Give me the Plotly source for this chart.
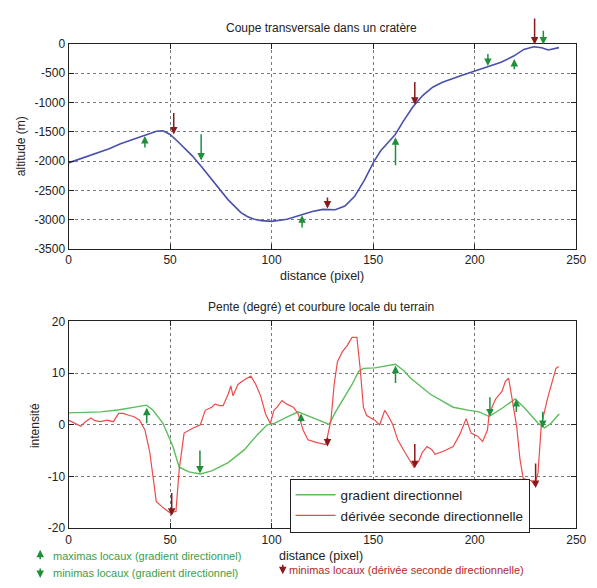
import plotly.graph_objects as go

W, H = 597, 588

# ---------------- data ----------------
# top: altitude profile
alt_x = [0, 5, 12.7, 20, 25.6, 31, 36.9, 40, 43.3, 46.5, 50, 54.3, 60.8, 65.6, 72, 78.5, 84.9,
         88, 91.4, 95, 100, 107.6, 115.6, 120, 125.3, 131.3, 136.1, 140.9, 145.7, 150.2, 153.7,
         158.5, 160.9, 164.8, 169.6, 174.5, 179.3, 184.1, 190.5, 193.8, 200.1, 203.4, 206.6,
         213, 219.4, 224.2, 229, 233, 236.2, 240.2, 241.5]
alt_y = [-2030, -1970, -1878, -1790, -1705, -1640, -1573, -1535, -1490, -1485, -1545, -1683,
         -1906, -2100, -2378, -2656, -2878, -2945, -2990, -3015, -3028, -2990, -2906, -2860,
         -2823, -2830, -2767, -2600, -2323, -2017, -1823, -1628, -1545, -1323, -1073, -878,
         -740, -657, -573, -538, -462, -423, -388, -315, -205, -95, -50, -67, -105, -72, -65]

# bottom: directional gradient (green)
grad_x = [0, 10, 16, 25, 32, 38.4, 41.6, 46.5, 51.3, 54.5, 59.3, 64.9, 70.5, 78.6, 86.6, 93,
          97.8, 101.1, 107.5, 113.1, 115.5, 121.9, 128.3, 131.5, 136.3, 139.6, 142.8, 145.2,
          150.8, 155, 160.9, 165, 168.5, 178.2, 189.4, 197.4, 202.2, 207.1, 213.5, 219.9,
          224.7, 231.2, 234.4, 237.6, 241.6]
grad_y = [2.3, 2.4, 2.5, 2.9, 3.3, 3.8, 2.8, 0.3, -4.1, -8.2, -9.1, -9.5, -8.9, -7.3, -4.8, -1.9,
          0, 0.25, 1.5, 2.5, 2.1, 1.1, 0.1, 2.5, 5.6, 7.8, 10.3, 10.9, 11, 11.3, 11.7, 10.5, 9,
          5.9, 3.4, 2.8, 2.5, 1.6, 3.2, 5, 3.2, 0.3, -0.6, 0.3, 2.1]

# bottom: directional second derivative (red)
d2_x = [0, 3, 6, 8, 11, 13, 15.8, 19, 22, 24.7, 27, 30, 32, 35, 37.6, 40, 41.6, 43.2, 46.5, 50,
        52.9, 54.5, 56.9, 60.9, 64.9, 67.3, 70.5, 72.1, 74.5, 76.1, 78.6, 79.9, 81, 83.4, 86.6,
        89.8, 92.2, 94.6, 97, 99.4, 101.1, 102.7, 105.1, 107.5, 110.7, 113.1, 115.5, 117.9,
        121.9, 126.7, 129.2, 130.8, 132.4, 134.8, 137.2, 139.6, 142, 143.6, 145.2, 146.8,
        150.8, 153.2, 155.7, 157.3, 159.7, 162.1, 165.3, 168.5, 170.1, 172.5, 174.1, 176.5,
        178.9, 180.5, 184.6, 189.4, 192.6, 195.8, 198.2, 201.4, 203.9, 206.3, 207.1, 210.3,
        213.5, 215.1, 216.7, 218.3, 220.7, 222.3, 223.9, 227.9, 229.5, 231.2, 232.8, 236,
        238.4, 240, 241.4]
d2_y = [0.9, 0.3, -0.3, 0.5, 1.3, 0.8, 0.6, 0.9, 0.6, 2.2, 2.2, 1.8, 1.6, 0.9, -1, -5.3, -9.7,
        -14.8, -16, -17, -16.7, -8.6, -1.6, -0.7, 0, 2.8, 3.4, 4, 3.7, 3.7, 5.9, 7.5, 5.6, 7.8,
        8.7, 9.4, 7.8, 5.6, 2.1, 0.25, 2.8, 3.4, 4.7, 4, 3.4, 2.1, -1, -2.9, -3.4, -3.8, 0.9,
        7.8, 12.2, 14.1, 15.3, 16.9, 16.9, 10.9, 3.4, 1.8, 0.9, 0, 2.8, 1.8, 0, -2.9, -5.1, -7,
        -8.2, -7, -5.4, -4.2, -4.8, -5.7, -5.1, -4.2, -1.9, 1.2, -1.6, -2.2, -3.2, -1, 2.1, 5,
        6.5, 8.4, 9, 5.3, -0.4, -6.7, -10.4, -10.8, -11.7, -9.2, 0, 5.3, 9, 10.9, 11.25]

# arrows (markers of local extrema): x, head value, tail value
top_gmax_x = [37.6, 115, 161, 219.5]
top_gmax_head = [-1573, -2923, -1595, -260]
top_gmax_tail = [-1795, -3156, -2095, -458]
top_gmin_x = [65.3, 206.5, 233.8]
top_gmin_head = [-1990, -378, -10]
top_gmin_tail = [-1517, -150, 250]
top_dmin_x = [51.8, 127.5, 170.5, 229.5]
top_dmin_head = [-1545, -2810, -1040, -10]
top_dmin_tail = [-1156, -2595, -625, 455]

bot_gmax_x = [38.5, 114.5, 161, 220.5]
bot_gmax_head = [3.3, 2.2, 11.4, 5.0]
bot_gmax_tail = [0.0, 0.3, 7.8, 2.2]
bot_gmin_x = [64.7, 207.5, 233.5]
bot_gmin_head = [-9.4, 1.6, -0.6]
bot_gmin_tail = [-4.7, 5.6, 2.8]
bot_dmin_x = [50.8, 127.5, 170.5, 230]
bot_dmin_head = [-17.6, -4.2, -8.4, -12.2]
bot_dmin_tail = [-12.9, -2.2, -3.4, -7.2]

x_ticks = [0, 50, 100, 150, 200, 250]
alt_ticks = [0, -500, -1000, -1500, -2000, -2500, -3000, -3500]
int_ticks = [-20, -10, 0, 10, 20]

title_top = "Coupe transversale dans un cratère"
title_bot = "Pente (degré) et courbure locale du terrain"
xlabel = "distance (pixel)"
ylabel_top = "altitude (m)"
ylabel_bot = "intensité"
name_grad = "gradient directionnel"
name_d2 = "dérivée seconde directionnelle"
note_gmax = "maximas locaux (gradient directionnel)"
note_gmin = "minimas locaux (gradient directionnel)"
note_dmin = "minimas locaux (dérivée seconde directionnelle)"

# ---------------- styles ----------------
BLUE = "#4a50ad"
GREEN = "#5cbd5c"
RED = "#ee4a4a"
AGREEN = "#1f8f3c"
ARED = "#8a1a1a"
TXT = "#222222"
FONT = "Liberation Sans, Arial, sans-serif"

def px_x(p):
    return p / W

def px_y(p):
    return 1 - p / H

fig = go.Figure()
fig.add_trace(go.Scatter(x=alt_x, y=alt_y, mode="lines", line=dict(color=BLUE, width=1.6),
                         showlegend=False, xaxis="x", yaxis="y"))
fig.add_trace(go.Scatter(x=grad_x, y=grad_y, mode="lines", name=name_grad,
                         line=dict(color=GREEN, width=1.4), xaxis="x2", yaxis="y2"))
fig.add_trace(go.Scatter(x=d2_x, y=d2_y, mode="lines", name=name_d2,
                         line=dict(color=RED, width=1.2), xaxis="x2", yaxis="y2"))

annotations = []

def arrows(xs, heads, tails, color, xr, yr):
    for xv, hv, tv in zip(xs, heads, tails):
        annotations.append(dict(x=xv, y=hv, ax=xv, ay=tv, xref=xr, yref=yr, axref=xr, ayref=yr,
                                text="", showarrow=True, arrowhead=2, arrowsize=1.0,
                                arrowwidth=1.5, arrowcolor=color, standoff=0))

arrows(top_gmax_x, top_gmax_head, top_gmax_tail, AGREEN, "x", "y")
arrows(top_gmin_x, top_gmin_head, top_gmin_tail, AGREEN, "x", "y")
arrows(top_dmin_x, top_dmin_head, top_dmin_tail, ARED, "x", "y")
arrows(bot_gmax_x, bot_gmax_head, bot_gmax_tail, AGREEN, "x2", "y2")
arrows(bot_gmin_x, bot_gmin_head, bot_gmin_tail, AGREEN, "x2", "y2")
arrows(bot_dmin_x, bot_dmin_head, bot_dmin_tail, ARED, "x2", "y2")

def label(text, xp, yp, size=12, angle=0, color=TXT, xanchor="center"):
    annotations.append(dict(text=text, x=px_x(xp), y=px_y(yp), xref="paper", yref="paper",
                            showarrow=False, textangle=angle, xanchor=xanchor, yanchor="middle",
                            font=dict(family=FONT, size=size, color=color)))

label(title_top, 326, 22, 12)
label(title_bot, 325, 307, 12)
label(xlabel, 326, 276, 12.5)
label(xlabel, 325, 562, 12.5)
label(ylabel_top, 18, 143, 12, -90)
label(ylabel_bot, 32, 429, 12, -90)
label(note_gmax, 49, 562, 11, color="#3a9e48", xanchor="left")
label(note_gmin, 49, 580, 11, color="#3a9e48", xanchor="left")
label(note_dmin, 290, 577, 11, color="#b02a2a", xanchor="left")

def icon(xp, ytip, ytail, color):
    annotations.append(dict(x=px_x(xp), y=px_y(ytip), xref="paper", yref="paper", ax=0,
                            ay=ytail - ytip, text="", showarrow=True, arrowhead=2, arrowsize=1.0,
                            arrowwidth=1.5, arrowcolor=color, standoff=0))

icon(38, 556, 567, AGREEN)
icon(38, 585, 574, AGREEN)
icon(286, 581, 570, ARED)

def fmt(v):
    return str(v).replace("\u2212", "-")

axis_common = dict(ticks="inside", ticklen=5, tickcolor=TXT,
                   mirror="allticks", showline=True, linecolor=TXT, linewidth=1,
                   showgrid=True, gridcolor="#7a7a7a", griddash="dot", gridwidth=1,
                   zeroline=False, tickfont=dict(family=FONT, size=12, color=TXT))

fig.update_layout(
    width=W, height=H, margin=dict(l=0, r=0, t=0, b=0),
    paper_bgcolor="white", plot_bgcolor="white",
    font=dict(family=FONT, size=12, color=TXT),
    xaxis=dict(domain=[67 / W, 586 / W], anchor="y", range=[0, 250], tickvals=x_ticks,
               ticktext=[fmt(v) for v in x_ticks], **axis_common),
    yaxis=dict(domain=[px_y(248), px_y(37.7)], anchor="x", range=[-3500, 0], tickvals=alt_ticks,
               ticktext=[fmt(v) for v in alt_ticks], **axis_common),
    xaxis2=dict(domain=[67 / W, 586 / W], anchor="y2", range=[0, 250], tickvals=x_ticks,
                ticktext=[fmt(v) for v in x_ticks], **axis_common),
    yaxis2=dict(domain=[px_y(534), px_y(322)], anchor="x2", range=[-20, 20], tickvals=int_ticks,
                ticktext=[fmt(v) for v in int_ticks], **axis_common),
    legend=dict(x=px_x(293), y=px_y(483), xanchor="left", yanchor="top", bgcolor="white",
                bordercolor=TXT, borderwidth=1, font=dict(family=FONT, size=13.5, color=TXT),
                tracegroupgap=0, itemwidth=40),
    annotations=annotations,
    showlegend=True,
)

fig.write_html("out.html")
